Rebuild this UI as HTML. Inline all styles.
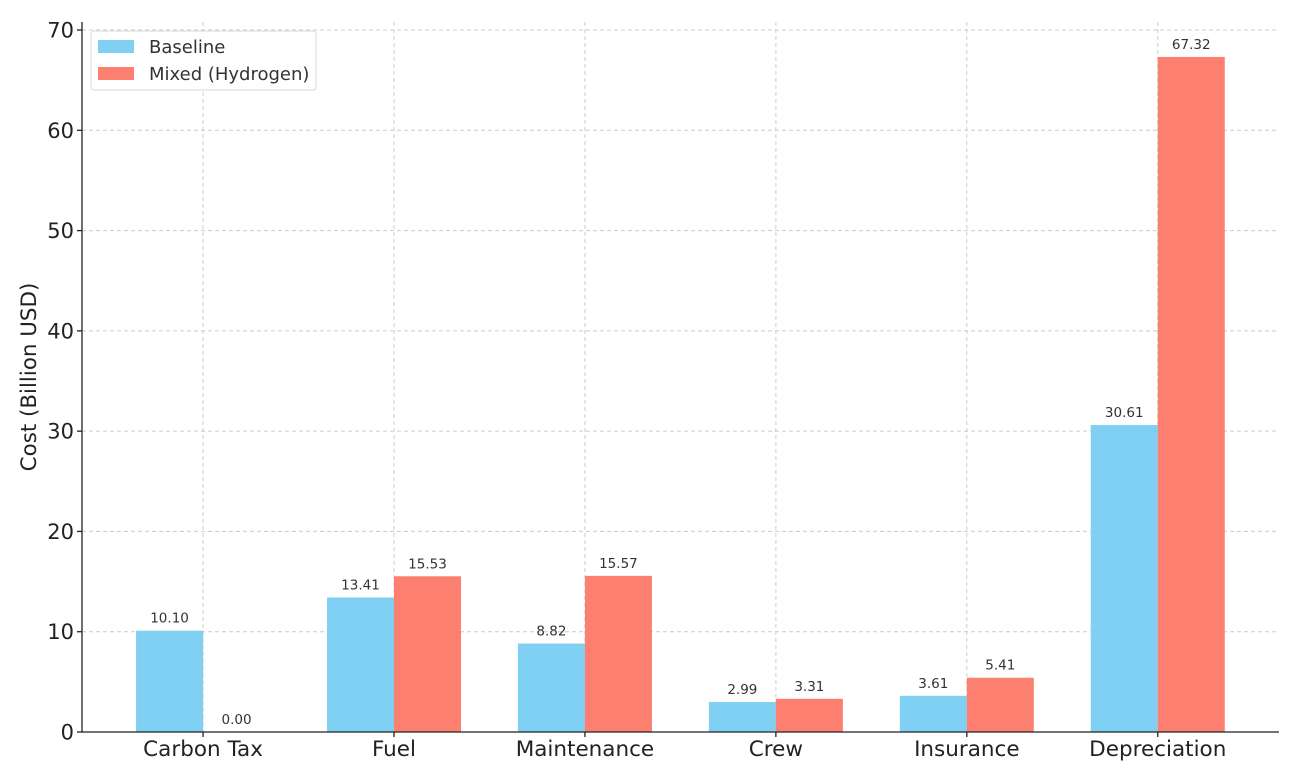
<!DOCTYPE html>
<html><head><meta charset="utf-8"><style>
body{margin:0;background:#fff;}
svg{display:block;font-family:"DejaVu Sans","Liberation Sans",sans-serif;}
</style></head><body>
<svg id="chart" width="1298" height="779"></svg>
<script>
const categories=["Carbon Tax","Fuel","Maintenance","Crew","Insurance","Depreciation"];
const baselineValues=[10.10,13.41,8.82,2.99,3.61,30.61];
const hydrogenValues=[0.00,15.53,15.57,3.31,5.41,67.32];
const yTicks=[0,10,20,30,40,50,60,70];
const seriesNames=["Baseline","Mixed (Hydrogen)"];
const colors=["#7fd0f2","#fd7f6f"];

const NS="http://www.w3.org/2000/svg";
const svg=document.getElementById('chart');
const L=82,R=1279,T=22,B=732;
const yMax=70.8;
const sp=(R-L)/(categories.length-1+1.269);
const x0=L+0.634*sp;
const xPos=i=>x0+i*sp;
const yPos=v=>B-v/yMax*(B-T);
const bw=67;
function mk(tag,attrs,parent){const e=document.createElementNS(NS,tag);for(const k in attrs)e.setAttribute(k,attrs[k]);(parent||svg).appendChild(e);return e;}

const grid=mk('g',{});


yTicks.forEach(t=>{mk('line',{x1:L,x2:R,y1:yPos(t),y2:yPos(t),stroke:'#cccccc','stroke-dasharray':'4,3','stroke-width':1},grid);});
categories.forEach((c,i)=>{mk('line',{x1:xPos(i),x2:xPos(i),y1:T,y2:B,stroke:'#cccccc','stroke-dasharray':'4,3','stroke-width':1},grid);});

const bars=mk('g',{});


[baselineValues,hydrogenValues].forEach((vals,s)=>{
 vals.forEach((v,i)=>{
  const x=xPos(i)+(s===0?-bw:0);
  const r=mk('rect',{x:x,y:yPos(v),width:bw,height:B-yPos(v),fill:colors[s]},bars);
  
  
  const t=mk('text',{x:x+bw/2,y:yPos(v)-8,'text-anchor':'middle','font-size':13.5,fill:'#333'},bars);
  t.textContent=v.toFixed(2);
  
  
 });
});

mk('line',{x1:L,x2:L,y1:T,y2:B,stroke:'#222','stroke-width':1.3});
mk('line',{x1:L,x2:R,y1:B,y2:B,stroke:'#222','stroke-width':1.3});
yTicks.forEach(t=>{
 mk('line',{x1:L-5,x2:L,y1:yPos(t),y2:yPos(t),stroke:'#222','stroke-width':1.3});
 const e=mk('text',{x:L-8,y:yPos(t)+7.5,'text-anchor':'end','font-size':21,fill:'#222'});
 e.textContent=t;
 
 
});
categories.forEach((c,i)=>{
 mk('line',{x1:xPos(i),x2:xPos(i),y1:B,y2:B+5,stroke:'#222','stroke-width':1.3});
 const e=mk('text',{x:xPos(i),y:B+24,'text-anchor':'middle','font-size':21.5,fill:'#222'});
 e.textContent=c;
 
 
});
const yc=377;
const yl=mk('text',{x:36,y:yc,'text-anchor':'middle','font-size':21.4,fill:'#222',transform:'rotate(-90 36 '+yc+')'});
yl.textContent='Cost (Billion USD)';



const lg=mk('g',{});


mk('rect',{x:91,y:31,width:225,height:59,rx:3,fill:'#fff','fill-opacity':0.85,stroke:'#d8d8d8'},lg);
seriesNames.forEach((n,s)=>{
 const y=40+s*27;
 mk('rect',{x:98,y:y,width:36,height:13,fill:colors[s]},lg);
 const t=mk('text',{x:149,y:y+13,'font-size':18,fill:'#333'},lg);
 t.textContent=n;
 
 
});
</script>
</body></html>
